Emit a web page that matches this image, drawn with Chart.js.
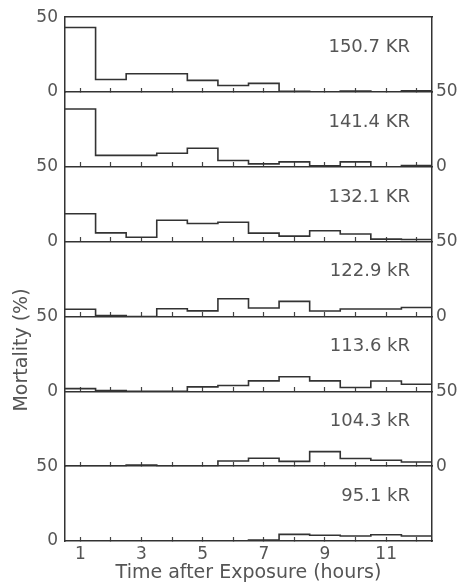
<!DOCTYPE html>
<html>
<head>
<meta charset="utf-8">
<title>Mortality after exposure</title>
<script src="https://cdn.jsdelivr.net/npm/chart.js@4.4.1/dist/chart.umd.min.js"></script>
<style>
  html, body { margin: 0; padding: 0; background: #fff; }
  #wrap { width: 466px; height: 588px; position: relative; }
</style>
</head>
<body>
<div id="wrap"><canvas id="mortChart"></canvas></div>
<script>
// hourly bins (centre of each 1 h interval)
const hours = [1, 2, 3, 4, 5, 6, 7, 8, 9, 10, 11, 12];
const xTickLabels = [1, 3, 5, 7, 9, 11];
const yTickValues = [0, 50];
const doseLabels = ["150.7 KR", "141.4 KR", "132.1 KR", "122.9 kR", "113.6 kR", "104.3 kR", "95.1 kR"];

// mortality (%) per hour, one array per dose
const mort150 = [43.1, 8.4, 12.2, 12.2, 7.8, 4.4, 5.8, 0.5, 0, 0.6, 0, 0.8];
const mort141 = [38.7, 7.7, 7.7, 9.1, 12.4, 4.2, 2.0, 3.3, 0.7, 3.3, 0, 0.9];
const mort132 = [18.7, 5.9, 3.0, 14.3, 12.2, 13.0, 5.7, 3.7, 7.3, 5.1, 1.7, 1.5];
const mort123 = [4.9, 0.7, 0, 5.2, 3.8, 11.9, 5.7, 10.1, 3.7, 5.0, 5.0, 6.0];
const mort114 = [1.8, 0.6, 0, 0, 3.0, 3.9, 7.0, 9.8, 7.0, 2.6, 6.9, 4.7];
const mort104 = [0, 0, 0.8, 0, 0, 3.5, 5.3, 3.2, 9.7, 5.1, 4.0, 2.8];
const mort95 = [0, 0, 0, 0, 0, 0, 0.7, 4.4, 3.8, 3.3, 4.2, 3.3];

const panelSeries = [mort150, mort141, mort132, mort123, mort114, mort104, mort95];

const ink = "#333";
const textGray = "#555";
const fontFam = "'DejaVu Sans', sans-serif";

Chart.defaults.font.family = fontFam;
Chart.defaults.color = textGray;

// step outline: left edge of every bin, plus the right edge of the last one
function stepPoints(values) {
  const pts = values.map((v, i) => ({ x: hours[i] - 0.5, y: v }));
  pts.push({ x: hours[hours.length - 1] + 0.5, y: values[values.length - 1] });
  return pts;
}

const fixTicks = (list) => (s) => { s.ticks = list.map(v => ({ value: v })); };

const scales = {
  x: {
    type: "linear", position: "bottom", min: 0.5, max: 12.5,
    afterBuildTicks: fixTicks(xTickLabels),
    afterFit: (s) => { s.height = 47; },
    grid: { display: false, drawTicks: false },
    border: { color: ink, width: 1.5 },
    ticks: { font: { size: 17 }, padding: 3, maxRotation: 0, autoSkip: false },
    title: { display: true, text: "Time after Exposure (hours)", font: { size: 19 }, padding: { top: 0, bottom: 4 } }
  }
};

// left axes: added in reverse so panel 1 ends up on top of the stack
for (let i = panelSeries.length - 1; i >= 0; i--) {
  scales["y" + (i + 1)] = {
    axis: "y", type: "linear", position: "left", stack: "left", min: 0, max: 50,
    afterBuildTicks: fixTicks(yTickValues),
    afterFit: (s) => { s.width = 65; },
    grid: { display: false, drawTicks: false },
    border: { color: ink, width: 1.5 },
    ticks: { display: i % 2 === 0, font: { size: 17 }, padding: 7 }
  };
}

for (let i = 0; i < panelSeries.length; i++) {
  scales["r" + (i + 1)] = {
    axis: "y", type: "linear", position: "right", stack: "right", min: 0, max: 50,
    afterBuildTicks: fixTicks(yTickValues),
    afterFit: (s) => { s.width = 34; },
    grid: { display: false, drawTicks: false },
    border: { color: ink, width: 1.5 },
    ticks: { display: i % 2 === 1, font: { size: 17 }, padding: 4 }
  };
}

for (let i = 0; i < panelSeries.length; i++) {
  // panel separator line at zero
  scales["base" + (i + 1)] = {
    axis: "x", type: "linear", min: 0.5, max: 12.5,
    position: { ["y" + (i + 1)]: 0 },
    grid: { display: false, drawTicks: false },
    border: { display: i < panelSeries.length - 1, color: ink, width: 1.5 },
    ticks: { display: false }
  };
  // short hour ticks standing on the baseline
  scales["hr" + (i + 1)] = {
    axis: "x", type: "linear", min: 0.5, max: 12.5,
    position: { ["y" + (i + 1)]: 3 },
    afterBuildTicks: fixTicks(hours),
    grid: { drawOnChartArea: false, drawTicks: true, tickLength: 4.5, tickColor: "#444", tickWidth: 1.2 },
    border: { display: false },
    ticks: { display: false }
  };
}

scales.frameTop = {
  axis: "x", type: "linear", min: 0.5, max: 12.5,
  position: { y1: 50 },
  grid: { display: false, drawTicks: false },
  border: { color: ink, width: 1.5 },
  ticks: { display: false }
};

const datasets = panelSeries.map((vals, i) => ({
  label: doseLabels[i],
  data: stepPoints(vals),
  xAxisID: "x",
  yAxisID: "y" + (i + 1),
  stepped: "before",
  borderColor: ink,
  borderWidth: 1.6,
  pointRadius: 0,
  fill: false
}));

const panelText = {
  id: "panelText",
  afterDraw(chart) {
    const { ctx, chartArea } = chart;
    ctx.save();
    ctx.fillStyle = textGray;
    ctx.font = "18px " + fontFam;
    ctx.textAlign = "right";
    ctx.textBaseline = "middle";
    doseLabels.forEach((label, i) => {
      const sc = chart.scales["y" + (i + 1)];
      ctx.fillText(label, chartArea.right - 22, sc.top + 30);
    });
    ctx.translate(22, 350);
    ctx.rotate(-Math.PI / 2);
    ctx.textAlign = "center";
    ctx.font = "19px " + fontFam;
    ctx.fillText("Mortality (%)", 0, 0);
    ctx.restore();
  }
};

new Chart(document.getElementById("mortChart"), {
  type: "line",
  data: { datasets: datasets },
  options: {
    responsive: true,
    maintainAspectRatio: false,
    animation: false,
    layout: { padding: { top: 10.8, left: 0, right: 0, bottom: 0 } },
    plugins: { legend: { display: false }, tooltip: { enabled: false }, title: { display: false } },
    scales: scales
  },
  plugins: [panelText]
});
</script>
</body>
</html>
